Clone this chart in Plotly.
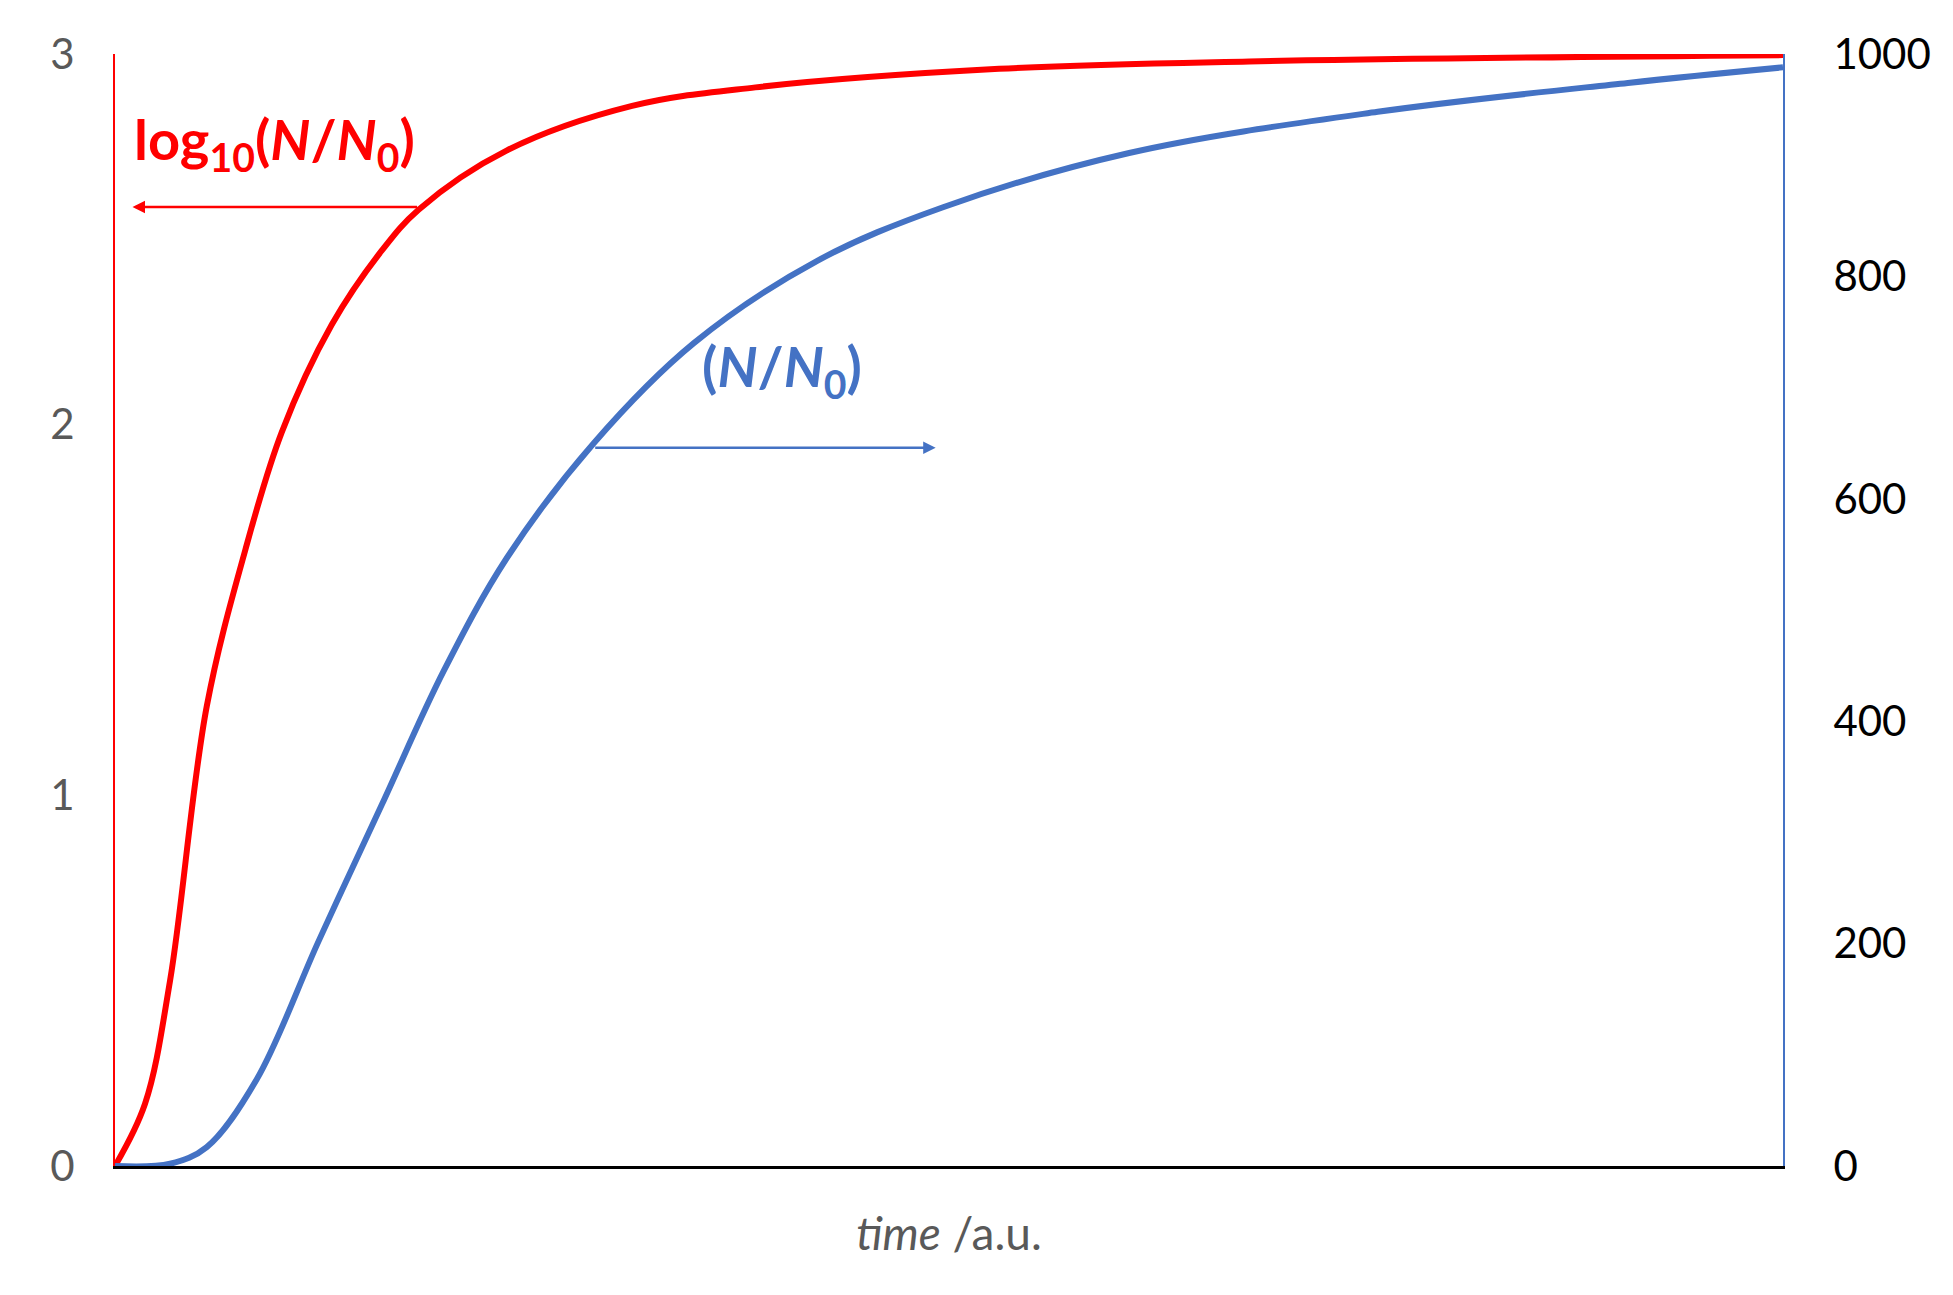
import plotly.graph_objects as go

t_red = [0, 1.8, 3.3, 5.5, 7.8, 10, 13, 16, 18.2, 23.5, 31, 38.4, 53, 68, 100]
log_ratio = [0, 0.168, 0.50, 1.24, 1.66, 1.98, 2.27, 2.47, 2.58, 2.74, 2.86, 2.91, 2.96, 2.98, 2.997]
t_blue = [0, 3.3, 5.5, 8.5, 12.2, 16, 19.7, 23.5, 28.7, 34.7, 42.1, 49.6, 60.8, 75.7, 90.7, 100]
ratio = [0, 2, 17, 78, 202, 325, 445, 547, 650, 740, 814, 862, 911, 948, 974, 988]
left_ticks = [0, 1, 2, 3]
right_ticks = [0, 200, 400, 600, 800, 1000]

RED = "#ff0000"
BLUE = "#4472c4"
F = "Lato"

fig = go.Figure()
fig.add_trace(go.Scatter(x=t_red, y=log_ratio, mode="lines", line=dict(color=RED, width=6, shape="spline", smoothing=1.0), yaxis="y"))
fig.add_trace(go.Scatter(x=t_blue, y=ratio, mode="lines", line=dict(color=BLUE, width=6, shape="spline", smoothing=1.0), yaxis="y2"))

fig.update_layout(
    width=1953, height=1295, showlegend=False,
    paper_bgcolor="white", plot_bgcolor="white",
    margin=dict(l=107, r=178, t=46, b=137),
    font=dict(family=F),
    xaxis=dict(range=[0, 100], showticklabels=False, ticks="", showgrid=False, zeroline=False,
               showline=True, linecolor="black", linewidth=3,
               title=dict(text="<i>time</i> /a.u.", font=dict(size=46, color="#595959"), standoff=50)),
    yaxis=dict(range=[0, 3], tickvals=left_ticks, showgrid=False, zeroline=False,
               showline=True, linecolor=RED, linewidth=2,
               tickfont=dict(size=42, color="#595959"), ticks="", ticklabelstandoff=30),
    yaxis2=dict(range=[0, 1000], tickvals=right_ticks, overlaying="y", side="right",
                showgrid=False, zeroline=False, showline=True, linecolor=BLUE, linewidth=2,
                tickfont=dict(size=42, color="black"), ticks="", ticklabelstandoff=40),
)

fig.add_annotation(x=1.05, y=2.587, ax=18.2, ay=2.587, xref="x", yref="y", axref="x", ayref="y",
                   showarrow=True, arrowhead=2, arrowsize=1, arrowwidth=2.5, arrowcolor=RED, text="")
fig.add_annotation(x=49.2, y=1.938, ax=28.7, ay=1.938, xref="x", yref="y", axref="x", ayref="y",
                   showarrow=True, arrowhead=2, arrowsize=1, arrowwidth=2.5, arrowcolor=BLUE, text="")
fig.add_annotation(x=1.0, y=2.76, xref="x", yref="y", xanchor="left", yanchor="middle", showarrow=False,
                   text="<b>log<sub>10</sub>(<i>N</i>/<i>N</i><sub>0</sub>)</b>", font=dict(size=56, color=RED, family=F))
fig.add_annotation(x=40.0, y=2.15, xref="x", yref="y", xanchor="center", yanchor="middle", showarrow=False,
                   text="<b>(<i>N</i>/<i>N</i><sub>0</sub>)</b>", font=dict(size=56, color=BLUE, family=F))

fig.write_html("out.html")
